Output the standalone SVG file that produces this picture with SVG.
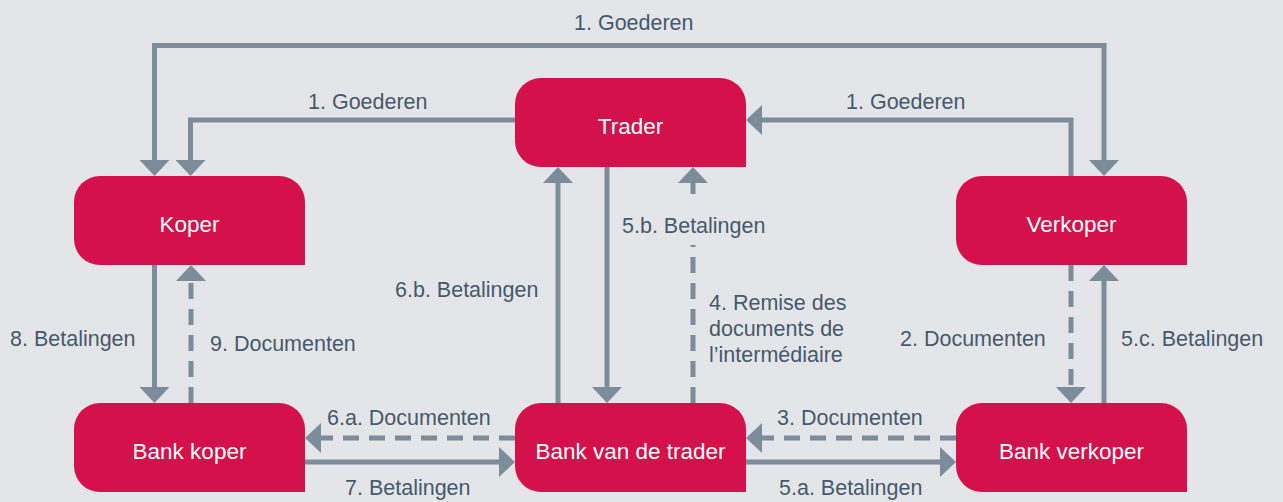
<svg xmlns="http://www.w3.org/2000/svg" xmlns:xlink="http://www.w3.org/1999/xlink" width="1283" height="502" viewBox="0 0 1283 502">
  <style>
    .bg { fill: #e4e5e9; }
    .node { fill: #d4114a; }
    .ntext { font-family: "Liberation Sans", Arial, sans-serif; font-size: 22.5px; fill: #ffffff; text-anchor: middle; }
    .label { font-family: "Liberation Sans", Arial, sans-serif; font-size: 21.5px; fill: #465a6b; }
    .conn { fill: none; stroke: #7b8c9b; stroke-width: 5; }
    .dash { stroke-dasharray: 16 10; }
  </style>
  <defs>
    <path id="shape" d="M26,0 H205 A26,26 0 0 1 231,26 V89 H26 A26,26 0 0 1 0,63 V26 A26,26 0 0 1 26,0 Z"/>
    <marker id="arr" viewBox="0 0 16 30" markerWidth="16" markerHeight="30" refX="0" refY="15" orient="auto-start-reverse" markerUnits="userSpaceOnUse">
      <path d="M0,0 L16,15 L0,30 Z" fill="#7b8c9b"/>
    </marker>
  </defs>
  <rect class="bg" x="0" y="0" width="1283" height="502"/>

  <g id="connectors">
    <path class="conn" d="M154.5,160 V45.5 H1104 V160" marker-start="url(#arr)" marker-end="url(#arr)"/>
    <path class="conn" d="M515,120 H190.5 V160" marker-end="url(#arr)"/>
    <path class="conn" d="M1071,176 V120 H762" marker-end="url(#arr)"/>
    <path class="conn" d="M154.5,265 V387" marker-end="url(#arr)"/>
    <path class="conn dash" d="M191,403 V281" marker-end="url(#arr)"/>
    <path class="conn" d="M558,403 V183" marker-end="url(#arr)"/>
    <path class="conn" d="M607,167 V387" marker-end="url(#arr)"/>
    <path class="conn dash" d="M693,403 V245"/>
    <path class="conn" d="M693,194 V183" marker-end="url(#arr)"/>
    <path class="conn dash" d="M1071,265 V387" marker-end="url(#arr)"/>
    <path class="conn" d="M1104,403 V281" marker-end="url(#arr)"/>
    <path class="conn dash" d="M515,438 H321" marker-end="url(#arr)"/>
    <path class="conn" d="M305,462 H499" marker-end="url(#arr)"/>
    <path class="conn dash" d="M956,438 H762" marker-end="url(#arr)"/>
    <path class="conn" d="M746,462 H940" marker-end="url(#arr)"/>
  </g>

  <g id="labels">
    <text class="label" x="574" y="30">1. Goederen</text>
    <text class="label" x="308" y="109">1. Goederen</text>
    <text class="label" x="846" y="109">1. Goederen</text>
    <text class="label" x="622" y="233">5.b. Betalingen</text>
    <text class="label" x="395" y="297">6.b. Betalingen</text>
    <text class="label" x="709" y="310">4. Remise des</text>
    <text class="label" x="709" y="336">documents de</text>
    <text class="label" x="709" y="362">l’intermédiaire</text>
    <text class="label" x="10" y="346">8. Betalingen</text>
    <text class="label" x="210" y="351">9. Documenten</text>
    <text class="label" x="900" y="346">2. Documenten</text>
    <text class="label" x="1121" y="346">5.c. Betalingen</text>
    <text class="label" x="327" y="425">6.a. Documenten</text>
    <text class="label" x="777" y="425">3. Documenten</text>
    <text class="label" x="345" y="495">7. Betalingen</text>
    <text class="label" x="779" y="495">5.a. Betalingen</text>
  </g>

  <g id="trader">
    <use xlink:href="#shape" class="node" x="515" y="78"/>
    <text class="ntext" x="630.5" y="134">Trader</text>
  </g>
  <g id="koper">
    <use xlink:href="#shape" class="node" x="74" y="176"/>
    <text class="ntext" x="189.5" y="232">Koper</text>
  </g>
  <g id="verkoper">
    <use xlink:href="#shape" class="node" x="956" y="176"/>
    <text class="ntext" x="1071.5" y="232">Verkoper</text>
  </g>
  <g id="bank-koper">
    <use xlink:href="#shape" class="node" x="74" y="403"/>
    <text class="ntext" x="189.5" y="459">Bank koper</text>
  </g>
  <g id="bank-trader">
    <use xlink:href="#shape" class="node" x="515" y="403"/>
    <text class="ntext" x="630.5" y="459">Bank van de trader</text>
  </g>
  <g id="bank-verkoper">
    <use xlink:href="#shape" class="node" x="956" y="403"/>
    <text class="ntext" x="1071.5" y="459">Bank verkoper</text>
  </g>
</svg>
